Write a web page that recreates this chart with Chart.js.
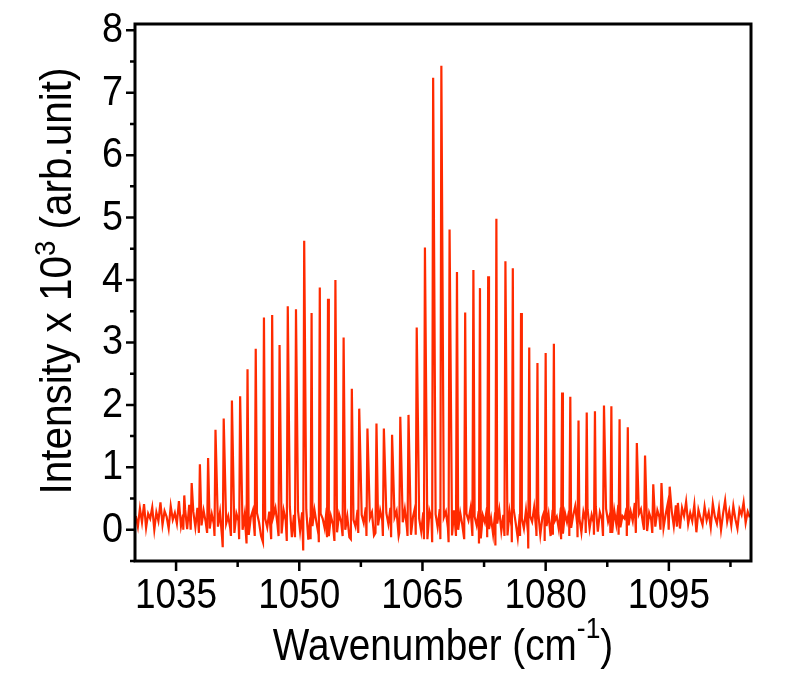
<!DOCTYPE html>
<html>
<head>
<meta charset="utf-8">
<script src="https://cdn.jsdelivr.net/npm/chart.js@4.4.1/dist/chart.umd.min.js"></script>
<style>
  html, body { margin: 0; padding: 0; background: #fff; }
  #wrap { width: 805px; height: 677px; }
</style>
</head>
<body>
<div id="wrap"><canvas id="c"></canvas></div>
<script>
// axis ticks
var xTicks = [1035, 1050, 1065, 1080, 1095];
var xMinor = [1042.5, 1057.5, 1072.5, 1087.5, 1102.5];
var yTicks = [0, 1, 2, 3, 4, 5, 6, 7, 8];
var yMinor = [-0.5, 0.5, 1.5, 2.5, 3.5, 4.5, 5.5, 6.5, 7.5];

// rotational lines: position (cm-1), top (x10^3), dip just before the line
var peakPos = [1036.0, 1036.9, 1037.9, 1038.9, 1039.8, 1040.8, 1041.8, 1042.8, 1043.7, 1044.7,
               1045.7, 1046.7, 1047.6, 1048.6, 1049.6, 1050.6, 1051.5, 1052.5, 1053.5, 1054.4,
               1055.4, 1056.4, 1057.3, 1058.3, 1059.4, 1060.3, 1061.3, 1062.3, 1063.3, 1064.3,
               1065.3, 1066.3, 1067.3, 1068.3, 1069.2, 1070.2, 1071.2, 1072.0, 1073.0, 1074.0,
               1075.1, 1076.0, 1077.0, 1078.0, 1079.0, 1080.0, 1081.0, 1082.0, 1083.0, 1084.0,
               1085.0, 1086.0, 1087.1, 1088.0, 1089.0, 1090.0, 1091.1, 1092.1, 1093.1, 1094.1,
               1095.1, 1096.1];
var peakTop = [0.55, 0.75, 1.05, 1.15, 1.60, 1.78, 2.07, 2.14, 2.57, 2.90,
               3.40, 3.44, 2.96, 3.58, 3.53, 4.63, 3.47, 3.88, 3.70, 4.00,
               3.08, 2.26, 1.94, 1.62, 1.70, 1.62, 1.52, 1.81, 1.84, 3.24,
               4.52, 7.24, 7.43, 4.81, 4.13, 3.48, 4.16, 3.87, 4.06, 4.98,
               4.30, 4.19, 3.47, 2.92, 2.67, 2.83, 2.98, 2.20, 2.13, 1.75,
               1.88, 1.90, 1.99, 1.98, 1.77, 1.64, 1.39, 1.19, 0.73, 0.75,
               0.69, 0.43];
var peakDip = [0.00, 0.00, -0.05, -0.05, -0.10, -0.28, -0.10, -0.15, -0.22, -0.10,
               -0.20, -0.15, -0.10, -0.18, -0.12, -0.33, -0.15, -0.20, -0.12, -0.18,
               -0.10, -0.15, -0.05, -0.10, -0.05, -0.10, -0.12, -0.05, -0.10, -0.08,
               -0.15, -0.20, -0.15, -0.20, -0.10, -0.15, -0.10, -0.22, -0.12, -0.25,
               -0.10, -0.20, -0.10, -0.30, -0.10, -0.18, -0.08, -0.15, -0.10, -0.12,
               -0.05, -0.08, -0.10, -0.05, -0.08, -0.10, -0.05, 0.00, -0.05, 0.00,
               0.00, 0.05];

// baseline noise, one value every 0.25 cm-1 from 1030.1
var baseStart = 1030.1, baseStep = 0.25;
var baseline = [
  0.22,0.05,0.34,0.12,0.41,0.03,0.26,0.18,0.36,0.00,0.28,0.14,0.44,0.08,0.30,0.21,0.02,0.38,0.16,0.27,
  0.10,0.46,0.06,0.24,0.33,0.01,0.40,0.15,0.29,0.04,0.35,0.19,0.07,0.31,0.13,0.42,0.02,0.25,0.09,0.37,
  0.05,0.28,-0.12,0.33,0.10,0.22,0.02,0.36,-0.05,0.26,0.14,0.30,0.00,0.24,0.38,-0.08,0.20,0.31,0.06,0.27,
  0.12,-0.10,0.34,0.18,0.04,0.29,-0.14,0.22,0.35,0.08,0.26,-0.06,0.31,0.15,0.02,0.37,-0.12,0.24,0.10,0.30,
  -0.02,0.28,0.14,0.33,-0.16,0.20,0.06,0.32,0.11,-0.08,0.26,0.18,0.02,0.35,-0.10,0.22,0.09,0.30,-0.04,0.25,
  0.13,0.34,0.00,0.21,-0.12,0.29,0.16,0.05,0.32,-0.06,0.24,0.11,0.36,0.02,0.19,0.28,-0.09,0.23,0.07,0.31,
  0.15,-0.05,0.27,0.09,0.35,0.00,0.20,0.30,-0.10,0.24,0.12,0.33,0.04,0.26,-0.08,0.21,0.36,0.06,0.18,-0.03,
  0.28,0.10,-0.15,0.30,0.17,-0.06,0.25,0.04,0.33,-0.12,0.20,0.29,0.03,0.24,-0.09,0.31,0.14,0.00,0.27,0.08,
  -0.11,0.26,0.15,0.34,-0.04,0.21,0.07,0.30,-0.14,0.23,0.12,0.35,0.01,0.19,-0.07,0.28,0.10,0.32,-0.02,0.24,
  0.16,-0.09,0.29,0.05,0.33,0.11,-0.13,0.25,0.18,0.02,0.31,-0.05,0.22,0.13,0.36,0.00,0.27,-0.08,0.20,0.30,
  0.06,0.25,-0.10,0.32,0.14,0.21,0.01,0.35,-0.06,0.27,0.12,0.30,0.03,0.23,0.38,0.08,0.19,-0.04,0.29,0.15,
  0.33,0.02,0.24,0.11,0.37,-0.03,0.28,0.17,0.06,0.34,0.13,0.26,-0.05,0.31,0.09,0.40,0.04,0.22,0.18,0.35,
  0.07,0.29,0.14,0.43,0.01,0.25,0.33,0.10,0.38,-0.02,0.27,0.16,0.44,0.05,0.31,0.20,0.36,0.03,0.24,0.41,
  0.12,0.30,0.06,0.39,0.18,0.02,0.35,0.22,0.45,0.09,0.27,0.14,0.40,-0.04,0.32,0.19,0.08,0.37,0.15,0.28,
  0.04,0.42,0.21,0.10,0.34,0.00,0.26,0.47,0.13,0.30,0.07,0.38,0.17,0.02,0.33,0.24,0.44,0.11,0.29,0.20
];

var lineColor = '#ff2a00';
var fontFam = '"Liberation Sans", Arial, sans-serif';

// merge baseline samples and line shapes into one trace
function buildTrace() {
    var pts = [];
    baseline.forEach(function (v, i) {
        var x = baseStart + i * baseStep;
        var near = peakPos.some(function (p) { return x > p - 0.14 && x < p + 0.06; });
        if (!near) pts.push({x: x, y: v});
    });
    peakPos.forEach(function (p, i) {
        pts.push({x: p - 0.12, y: peakDip[i]});
        pts.push({x: p, y: peakTop[i]});
    });
    pts.sort(function (a, b) { return a.x - b.x; });
    return pts;
}

// text squeezed a little sideways, like the original figure
function squeezed(ctx, txt, x, y, align, sx) {
    ctx.save();
    ctx.translate(x, y);
    ctx.scale(sx, 1);
    ctx.textAlign = align;
    ctx.fillText(txt, 0, 0);
    ctx.restore();
}

// title with one superscript part, centred on (0,0) of the current transform
function supTitle(ctx, before, sup, after, raise, sx) {
    var big = '44px ' + fontFam, small = '30px ' + fontFam;
    ctx.font = big;
    var w1 = ctx.measureText(before).width, w3 = ctx.measureText(after).width;
    ctx.font = small;
    var w2 = ctx.measureText(sup).width;
    var x0 = -(w1 + w2 + w3) / 2;
    ctx.scale(sx, 1);
    ctx.textAlign = 'left';
    ctx.font = big; ctx.fillText(before, x0, 0);
    ctx.font = small; ctx.fillText(sup, x0 + w1, -raise);
    ctx.font = big; ctx.fillText(after, x0 + w1 + w2, 0);
}

// frame, tick marks, tick labels and axis titles
var framePlugin = {
    id: 'frame',
    afterDraw: function (chart) {
        var ctx = chart.ctx, a = chart.chartArea;
        var xs = chart.scales.x, ys = chart.scales.y;
        ctx.save();
        ctx.strokeStyle = '#000';
        ctx.lineWidth = 3;
        ctx.strokeRect(a.left, a.top, a.right - a.left, a.bottom - a.top);

        ctx.lineWidth = 2.5;
        ctx.beginPath();
        yTicks.forEach(function (v) {
            var y = ys.getPixelForValue(v);
            ctx.moveTo(a.left, y); ctx.lineTo(a.left - 9, y);
        });
        yMinor.forEach(function (v) {
            var y = ys.getPixelForValue(v);
            ctx.moveTo(a.left, y); ctx.lineTo(a.left - 5, y);
        });
        xTicks.forEach(function (v) {
            var x = xs.getPixelForValue(v);
            ctx.moveTo(x, a.bottom); ctx.lineTo(x, a.bottom + 10);
        });
        xMinor.forEach(function (v) {
            var x = xs.getPixelForValue(v);
            ctx.moveTo(x, a.bottom); ctx.lineTo(x, a.bottom + 6);
        });
        ctx.stroke();

        ctx.fillStyle = '#000';
        ctx.textBaseline = 'alphabetic';
        ctx.font = '42px ' + fontFam;
        xTicks.forEach(function (v) {
            squeezed(ctx, String(v), xs.getPixelForValue(v), 608, 'center', 0.88);
        });
        yTicks.forEach(function (v) {
            squeezed(ctx, String(v), a.left - 12, ys.getPixelForValue(v) + 12, 'right', 0.9);
        });

        // x title
        ctx.save();
        ctx.translate((a.left + a.right) / 2, 660);
        supTitle(ctx, 'Wavenumber (cm', '-1', ')', 22, 0.88);
        ctx.restore();

        // y title
        ctx.save();
        ctx.translate(71, 281);
        ctx.rotate(-Math.PI / 2);
        supTitle(ctx, 'Intensity x 10', '3', ' (arb.unit)', 16, 0.92);
        ctx.restore();
        ctx.restore();
    }
};

window.onload = function () {
    var ctx = document.getElementById('c').getContext('2d');
    new Chart(ctx, {
        type: 'line',
        data: {
            datasets: [{
                data: buildTrace(),
                borderColor: lineColor,
                borderWidth: 2.2,
                pointRadius: 0,
                tension: 0,
                fill: false
            }]
        },
        options: {
            responsive: true,
            maintainAspectRatio: false,
            animation: false,
            layout: {padding: {top: 24, right: 54, left: 0, bottom: 0}},
            plugins: {legend: {display: false}, tooltip: {enabled: false}},
            scales: {
                x: {
                    type: 'linear', min: 1030, max: 1105,
                    afterBuildTicks: function (s) { s.ticks = xTicks.map(function (v) { return {value: v}; }); },
                    afterFit: function (s) { s.height = 116; },
                    grid: {display: false}, border: {display: false},
                    ticks: {display: false}
                },
                y: {
                    min: -0.5, max: 8.1,
                    afterBuildTicks: function (s) { s.ticks = yTicks.map(function (v) { return {value: v}; }); },
                    afterFit: function (s) { s.width = 135; },
                    grid: {display: false}, border: {display: false},
                    ticks: {display: false}
                }
            }
        },
        plugins: [framePlugin]
    });
};
</script>
</body>
</html>
